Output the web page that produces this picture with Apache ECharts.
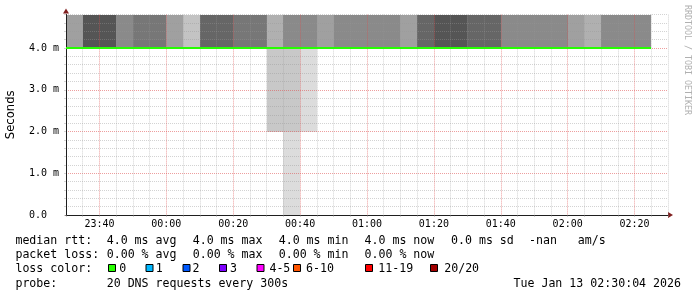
<!DOCTYPE html>
<html><head><meta charset="utf-8">
<script src="https://cdn.jsdelivr.net/npm/echarts@6/dist/echarts.min.js"></script>
<style>html,body{margin:0;padding:0;background:#fff}#c{width:697px;height:297px}</style>
</head><body><div id="c"></div>
<script>
// ---------- data ----------
const stepTimes = ['23:30','23:35','23:40','23:45','23:50','23:55','00:00','00:05','00:10','00:15','00:20','00:25','00:30','00:35','00:40','00:45','00:50','00:55','01:00','01:05','01:10','01:15','01:20','01:25','01:30','01:35','01:40','01:45','01:50','01:55','02:00','02:05','02:10','02:15','02:20'];
const medianRtt = [4.0,4.0,4.0,4.0,4.0,4.0,4.0,4.0,4.0,4.0,4.0,4.0,4.0,4.0,4.0,4.0,4.0,4.0,4.0,4.0,4.0,4.0,4.0,4.0,4.0,4.0,4.0,4.0,4.0,4.0,4.0,4.0,4.0,4.0,4.0];
const lossIndex = [0,0,0,0,0,0,0,0,0,0,0,0,0,0,0,0,0,0,0,0,0,0,0,0,0,0,0,0,0,0,0,0,0,0,0];
// smoke shade above the median (gray level, smoke runs past the top of the chart)
const upperGray = [160,85,85,138,119,119,160,195,102,102,119,119,176,138,138,160,138,138,138,138,160,102,85,85,102,102,138,138,138,138,160,176,138,138,138];
// smoke below the median: [time, low, high, gray level]
const lowerBands = [
  ['00:30', 2.0, 4.0, 200],
  ['00:35', 2.0, 4.0, 200],
  ['00:35', 0.0, 2.0, 220],
  ['00:40', 2.0, 4.0, 220]
];
const yTickLabels = ['0.0','1.0 m','2.0 m','3.0 m','4.0 m'];
const xTickLabels = ['23:40','00:00','00:20','00:40','01:00','01:20','01:40','02:00','02:20'];
const rttLabel = 'median rtt:';
const rttStats = ['4.0 ms avg','4.0 ms max','4.0 ms min','4.0 ms now','0.0 ms sd','-nan   am/s'];
const lossLabel = 'packet loss:';
const lossStats = ['0.00 % avg','0.00 % max','0.00 % min','0.00 % now'];
const lossColorLabel = 'loss color:';
const lossNames = ['0','1','2','3','4-5','6-10','11-19','20/20'];
const lossColors = ['#26ff00','#00b8ff','#0059ff','#7e00ff','#ff00ff','#ff5500','#ff0000','#a10000'];
const probeLabel = 'probe:';
const probeText = '20 DNS requests every 300s';
const stampText = 'Tue Jan 13 02:30:04 2026';
const sideText = 'RRDTOOL / TOBI OETIKER';

// ---------- helpers ----------
const START = 23 * 60 + 30, SPAN = 180, STEP = 5, YMAX = 4.8;
function toOffset(hhmm) {
  const [h, m] = hhmm.split(':').map(Number);
  return ((h * 60 + m) - START + 1440) % 1440;
}
function fmtTime(off) {
  const t = (START + off) % 1440;
  return String(Math.floor(t / 60)).padStart(2, '0') + ':' + String(t % 60).padStart(2, '0');
}
const GRID = 'rgba(150,150,150,0.42)';
const MGRID = 'rgba(222,79,79,0.55)';
const MONO = '"DejaVu Sans Mono"';

const smokeData = [];
stepTimes.forEach((t, i) => smokeData.push([toOffset(t), medianRtt[i], YMAX, upperGray[i]]));
lowerBands.forEach(b => smokeData.push([toOffset(b[0]), b[1], b[2], b[3]]));
const medianData = stepTimes.map((t, i) => [toOffset(t), medianRtt[i], lossIndex[i]]);

function clipTo(params, r) {
  return echarts.graphic.clipRectByRect(r, {
    x: params.coordSys.x, y: params.coordSys.y,
    width: params.coordSys.width, height: params.coordSys.height
  });
}
function renderSmoke(params, api) {
  const t = api.value(0), lo = api.value(1), hi = api.value(2), g = api.value(3);
  const a = api.coord([t, hi]), b = api.coord([t + STEP, lo]);
  const x0 = Math.round(a[0]), x1 = Math.round(b[0]);
  const y0 = Math.round(a[1]), y1 = Math.round(b[1]);
  const r = clipTo(params, {x: x0, y: y0, width: x1 - x0, height: y1 - y0});
  return r && {type: 'rect', shape: r, style: {fill: 'rgb(' + g + ',' + g + ',' + g + ')'}};
}
function renderMedian(params, api) {
  const t = api.value(0), v = api.value(1), li = api.value(2);
  const a = api.coord([t, v]), b = api.coord([t + STEP, v]);
  return {type: 'line', shape: {x1: Math.round(a[0]), y1: a[1], x2: Math.round(b[0]), y2: b[1]},
          style: {stroke: lossColors[li], lineWidth: 2, lineCap: 'butt'}};
}

// ---------- legend text layout ----------
const FONT = '11.6px ' + MONO;
const rows = [241.2, 255.2, 269.2, 284];
const colX = [106.7, 192.7, 278.7, 364.5, 451, 529];
const boxX = [108, 145.5, 182.5, 219, 256.5, 293, 365, 430];
const boxLabelX = [119.2, 155.8, 192.5, 229.9, 269.4, 306, 378.3, 444.2];
const graphics = [];
function txt(s, x, y, align) {
  graphics.push({type: 'text', x: x, y: y, silent: true,
    style: {text: s, font: FONT, fill: '#000', textAlign: align || 'left', textVerticalAlign: 'middle'}});
}
txt(rttLabel, 15.4, rows[0]);
rttStats.forEach((s, i) => txt(s, colX[i], rows[0]));
txt(lossLabel, 15.4, rows[1]);
lossStats.forEach((s, i) => txt(s, colX[i], rows[1]));
txt(lossColorLabel, 15.4, rows[2]);
lossNames.forEach((s, i) => {
  graphics.push({type: 'rect', silent: true, shape: {x: boxX[i] + 0.5, y: 264.5, width: 7, height: 7},
    style: {fill: lossColors[i], stroke: '#000', lineWidth: 1}});
  txt(s, boxLabelX[i], rows[2]);
});
txt(probeLabel, 15.4, rows[3]);
txt(probeText, colX[0], rows[3]);
txt(stampText, 681, rows[3], 'right');
graphics.push({type: 'text', x: 687.5, y: 60, rotation: -Math.PI / 2, silent: true,
  style: {text: sideText, font: '8.3px ' + MONO, fill: '#b0b0b0', textAlign: 'center', textVerticalAlign: 'middle'}});

// ---------- chart ----------
const chart = echarts.init(document.getElementById('c'), null, {renderer: 'canvas'});
const axisCommon = {type: 'value', min: 0};
chart.setOption({
  animation: false,
  backgroundColor: '#fff',
  grid: {left: 66, right: 29, top: 14.6, bottom: 82, outerBoundsMode: 'none', containLabel: false},
  xAxis: [
    Object.assign({}, axisCommon, {
      max: SPAN, interval: STEP, z: 5,
      axisLine: {show: true, onZero: false, lineStyle: {color: '#1f1f1f', width: 1}},
      axisTick: {show: true, length: 2, lineStyle: {color: GRID}},
      axisLabel: {show: true, margin: 4, fontFamily: MONO, fontSize: 10, color: '#000',
        formatter: v => { const s = fmtTime(v); return ((v - 10) % 20 === 0 && xTickLabels.includes(s)) ? s : ''; }},
      splitLine: {show: true, lineStyle: {color: [GRID, GRID, MGRID, GRID], width: 1, type: [1, 1]}}
    }),
    Object.assign({}, axisCommon, {
      max: SPAN, position: 'bottom', z: 4,
      axisLine: {show: true, onZero: false, symbol: ['none', 'triangle'], symbolSize: [6, 5], symbolOffset: [0, 2.5],
        lineStyle: {color: '#801f1f', width: 1}},
      axisTick: {show: false}, axisLabel: {show: false}, splitLine: {show: false}
    })
  ],
  yAxis: [
    Object.assign({}, axisCommon, {
      max: YMAX, interval: 0.2, z: 5,
      name: 'Seconds', nameLocation: 'middle', nameRotate: 90, nameGap: 49,
      nameTextStyle: {fontFamily: '"DejaVu Sans"', fontSize: 11.6, color: '#000'},
      axisLine: {show: true, onZero: false, lineStyle: {color: '#1f1f1f', width: 1}},
      axisTick: {show: true, length: 2, lineStyle: {color: GRID}},
      axisLabel: {show: true, margin: 37, align: 'left', fontFamily: MONO, fontSize: 10, color: '#000',
        formatter: v => { const k = Math.round(v); return Math.abs(v - k) < 1e-6 && k < yTickLabels.length ? yTickLabels[k] : ''; }},
      splitLine: {show: true, lineStyle: {color: [MGRID, GRID, GRID, GRID, GRID], width: 1, type: [1, 1]}}
    }),
    Object.assign({}, axisCommon, {
      max: YMAX, position: 'left', z: 4,
      axisLine: {show: true, onZero: false, symbol: ['none', 'triangle'], symbolSize: [6, 5], symbolOffset: [0, 3.6],
        lineStyle: {color: '#801f1f', width: 1}},
      axisTick: {show: false}, axisLabel: {show: false}, splitLine: {show: false}
    })
  ],
  series: [
    {type: 'custom', name: 'smoke', xAxisIndex: 0, yAxisIndex: 0, z: 2, silent: true,
     renderItem: renderSmoke, encode: {x: 0, y: [1, 2]}, data: smokeData},
    {type: 'custom', name: 'median rtt', xAxisIndex: 0, yAxisIndex: 0, z: 6, silent: true,
     renderItem: renderMedian, encode: {x: 0, y: 1}, data: medianData}
  ],
  graphic: graphics
});
</script></body></html>
